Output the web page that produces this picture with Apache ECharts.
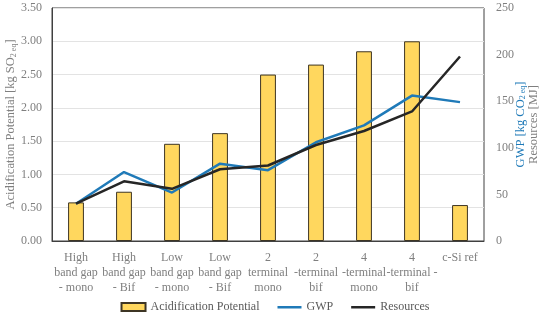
<!DOCTYPE html>
<html style="height: 100%">
<head>
<meta charset="utf-8">
</head>
<body style="height: 100%; margin: 0">
<div id="container" style="width: 550px; height: 318px"></div>
<script src="https://cdn.jsdelivr.net/npm/echarts@6/dist/echarts.min.js"></script>
<script type="text/javascript">
// categories (x axis, 3-line labels as in the original)
var categories = [
    'High\nband gap\n- mono', 'High\nband gap\n- Bif', 'Low\nband gap\n- mono', 'Low\nband gap\n- Bif',
    '2\nterminal\nmono', '2\n-terminal\nbif', '4\n-terminal\nmono', '4\n-terminal -\nbif', 'c-Si ref'
];
// left axis: kg SO2 eq
var acidification = [0.58, 0.74, 1.46, 1.62, 2.50, 2.65, 2.85, 3.00, 0.54];
// right axis
var gwp = [40, 74, 52, 83, 76, 106, 124, 156, 149];
var resources = [40, 64, 56, 77, 81, 103, 118, 139, 198];

var font = 'Liberation Serif';
var lineIcon = 'path://M0,3 H24 V5.5 H0 Z M0,0 H0.01 V8 H0 Z';
var dom = document.getElementById('container');
var myChart = echarts.init(dom);

var option = {
    animation: false,
    textStyle: { fontFamily: font },
    grid: { left: 52, right: 66, top: 8, bottom: 77, containLabel: false, outerBoundsMode: 'none',
        show: true, borderColor: '#404040', borderWidth: 1 },
    legend: {
        bottom: 0,
        left: 'center',
        itemGap: 18,
        itemWidth: 24,
        itemHeight: 8,
        textStyle: { fontFamily: font, fontSize: 12, color: '#595959' },
        data: [
            { name: 'Acidification Potential', icon: 'rect' },
            { name: 'GWP', icon: lineIcon },
            { name: 'Resources', icon: lineIcon }
        ]
    },
    xAxis: {
        type: 'category',
        data: categories,
        axisTick: { show: false },
        axisLine: { lineStyle: { color: '#404040' } },
        axisLabel: { interval: 0, color: '#7f7f7f', fontSize: 12, lineHeight: 15, margin: 9, fontFamily: font }
    },
    yAxis: [
        {
            type: 'value',
            min: 0, max: 3.5, interval: 0.5,
            axisLine: { show: true, lineStyle: { color: '#404040' } },
            axisLabel: { color: '#7f7f7f', fontSize: 12, margin: 10, fontFamily: font,
                formatter: function (v) { return v.toFixed(2); } },
            splitLine: { lineStyle: { color: '#e3e3e3' } },
            name: '{a|Acidification Potential [kg SO}{s|2 eq}{a|]}',
            nameLocation: 'middle',
            nameMoveOverlap: false,
            nameGap: 34,
            nameRotate: 90,
            nameTextStyle: {
                rich: {
                    a: { fontFamily: font, fontSize: 12.5, color: '#7f7f7f' },
                    s: { fontFamily: font, fontSize: 8, color: '#7f7f7f', verticalAlign: 'bottom', padding: [6, 0, 0, 0] }
                }
            }
        },
        {
            type: 'value',
            min: 0, max: 250, interval: 50,
            axisLine: { show: false },
            axisLabel: { color: '#7f7f7f', fontSize: 12, margin: 12, fontFamily: font },
            splitLine: { show: false },
            name: '{g|GWP [kg CO}{gs|2 eq}{g|]}\n{r|Resources [MJ]}',
            nameLocation: 'middle',
            nameMoveOverlap: false,
            nameGap: 30,
            nameRotate: 90,
            nameTextStyle: {
                lineHeight: 13,
                rich: {
                    g: { fontFamily: font, fontSize: 12.5, color: '#1f7ab8', lineHeight: 13 },
                    gs: { fontFamily: font, fontSize: 8, color: '#1f7ab8', verticalAlign: 'bottom', padding: [6, 0, 0, 0] },
                    r: { fontFamily: font, fontSize: 12.5, color: '#7f7f7f', lineHeight: 13 }
                }
            }
        }
    ],
    series: [
        {
            name: 'Acidification Potential',
            type: 'bar',
            data: acidification,
            barWidth: '33%',
            itemStyle: { color: '#ffd75e', borderColor: '#3d3524', borderWidth: 1 }
        },
        {
            name: 'GWP',
            type: 'line',
            yAxisIndex: 1,
            data: gwp,
            symbol: 'none',
            lineStyle: { color: '#1f7ab8', width: 2.5 },
            itemStyle: { color: '#1f7ab8' }
        },
        {
            name: 'Resources',
            type: 'line',
            yAxisIndex: 1,
            data: resources,
            symbol: 'none',
            lineStyle: { color: '#262626', width: 2.5 },
            itemStyle: { color: '#262626' }
        }
    ]
};
myChart.setOption(option);
</script>
</body>
</html>
